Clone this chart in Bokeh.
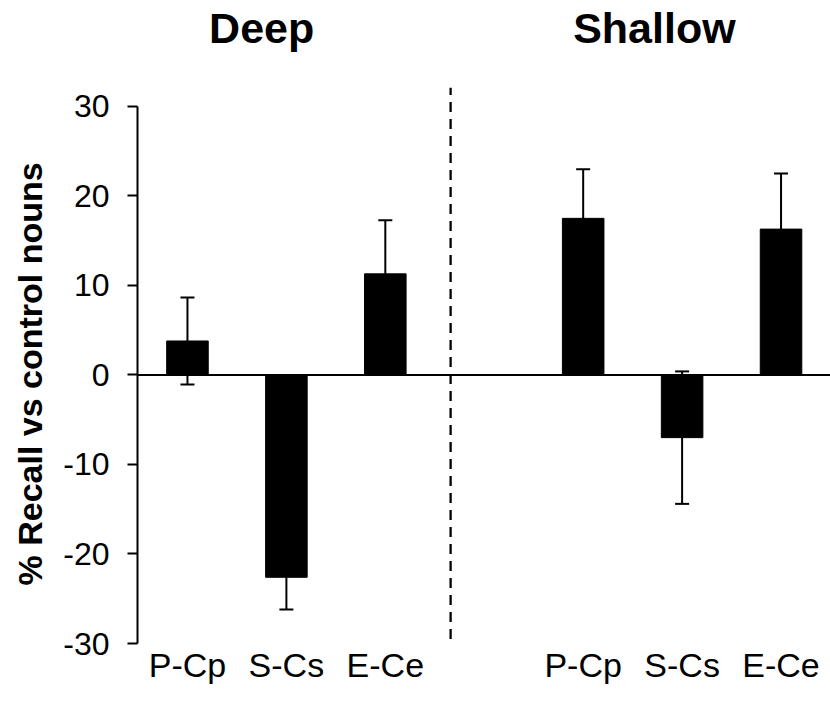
from bokeh.plotting import figure
from bokeh.models import (ColumnDataSource, Range1d, FixedTicker, Span, Whisker,
                          TeeHead, Label, Title)
from bokeh.embed import file_html
from bokeh.resources import INLINE

# ---- data ----
groups = ["Deep", "Shallow"]
categories = ["P-Cp", "S-Cs", "E-Ce"]
deep_values = [3.8, -22.6, 11.3]
deep_errors = [4.85, 3.6, 6.0]
shallow_values = [17.5, -7.0, 16.3]
shallow_errors = [5.5, 7.4, 6.2]
y_ticks = [-30, -20, -10, 0, 10, 20, 30]
y_tick_labels = ["-30", "-20", "-10", "0", "10", "20", "30"]
y_title = "% Recall vs control nouns"

FONT = "Liberation Sans"

# build table from the arrays
slot = len(categories) + 1
xs, labels, vals, errs = [], [], [], []
for gi, (gv, ge) in enumerate([(deep_values, deep_errors), (shallow_values, shallow_errors)]):
    for ci, cat in enumerate(categories):
        xs.append(gi * slot + ci)
        labels.append(cat)
        vals.append(gv[ci])
        errs.append(ge[ci])
src = ColumnDataSource(dict(
    x=xs, top=vals,
    upper=[v + e for v, e in zip(vals, errs)],
    lower=[v - e for v, e in zip(vals, errs)],
))

p = figure(width=830, height=724, output_backend="svg", toolbar_location=None,
           x_range=Range1d(-0.505, 6.5), y_range=Range1d(-30, 41.84),
           min_border_left=137, min_border_right=0, min_border_top=0,
           min_border_bottom=81)
p.outline_line_color = None
p.xgrid.visible = False
p.ygrid.visible = False
p.background_fill_color = "white"
p.border_fill_color = "white"

# error bars
w = Whisker(source=src, base="x", upper="upper", lower="lower",
            line_color="black", line_width=2, level="underlay",
            upper_head=TeeHead(size=14, line_width=2, line_color="black"),
            lower_head=TeeHead(size=14, line_width=2, line_color="black"))
p.add_layout(w)

# bars
p.vbar(x="x", top="top", bottom=0, width=0.42, source=src,
       fill_color="black", line_color="black", line_width=1)

# zero line
p.add_layout(Span(location=0, dimension="width", line_color="black", line_width=2))

# separator
p.segment(x0=[2.66], y0=[-29.5], x1=[2.66], y1=[32.1], line_color="black",
          line_width=2.3, line_dash="10 7")

# group titles
for gx, g in zip([0.75, 4.72], groups):
    p.add_layout(Label(x=gx, y=38.8, text=g, text_font=FONT, text_font_style="bold",
                       text_font_size="43px", text_align="center",
                       text_baseline="alphabetic", text_color="black"))

# y title in the left side panel
p.add_layout(Title(text=y_title, align="left", offset=58, text_font=FONT,
                   text_font_style="bold", text_font_size="34px",
                   text_color="black", standoff=19, vertical_align="top"), "left")

# y axis
ya = p.yaxis[0]
ya.ticker = FixedTicker(ticks=y_ticks)
ya.major_label_overrides = {t: l for t, l in zip(y_ticks, y_tick_labels)}
ya.bounds = (min(y_ticks), max(y_ticks))
ya.axis_line_width = 2
ya.major_tick_line_width = 2
ya.major_tick_out = 10
ya.major_tick_in = 0
ya.minor_tick_line_color = None
ya.major_label_text_font = FONT
ya.major_label_text_font_size = "32px"
ya.major_label_text_color = "black"
ya.major_label_standoff = 18

# x axis (category labels only)
xa = p.xaxis[0]
xa.ticker = FixedTicker(ticks=xs)
xa.major_label_overrides = {x: l for x, l in zip(xs, labels)}
xa.axis_line_color = None
xa.major_tick_line_color = None
xa.minor_tick_line_color = None
xa.major_label_text_font = FONT
xa.major_label_text_font_size = "34px"
xa.major_label_text_color = "black"
xa.major_label_standoff = -4

open("out.html", "w").write(file_html(p, INLINE))
